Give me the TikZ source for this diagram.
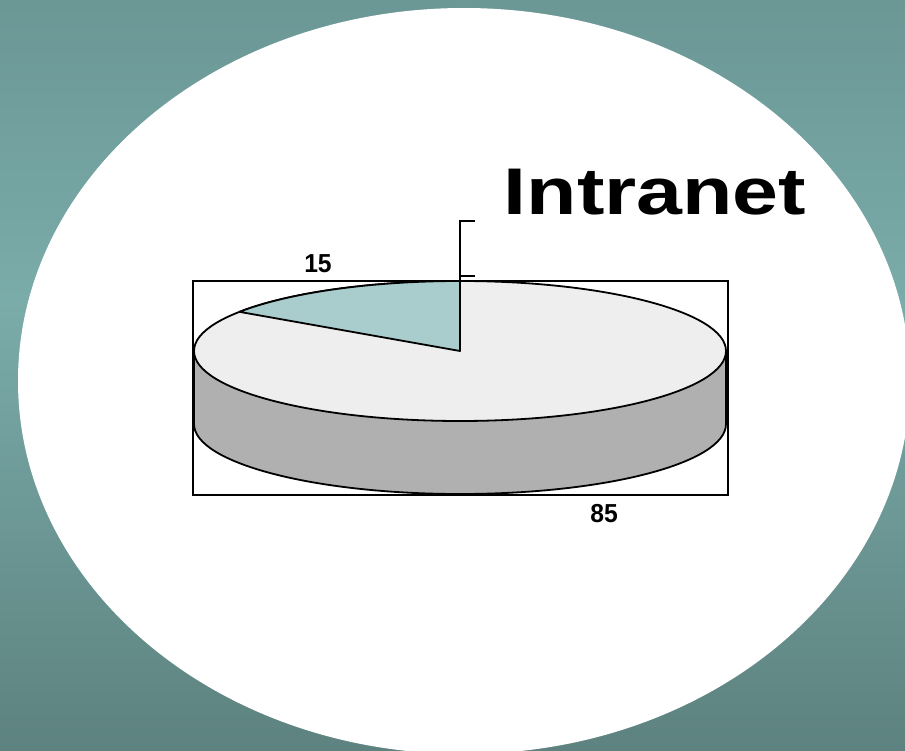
\documentclass[tikz,border=0pt]{standalone}
\usepackage{fontspec}
\setmainfont{Liberation Sans}
\begin{document}
\begin{tikzpicture}[x=1pt,y=-1pt]
\definecolor{bgtop}{RGB}{107,151,149}
\definecolor{bgmid}{RGB}{122,172,170}
\definecolor{bgbot}{RGB}{93,130,127}
\definecolor{slicecol}{RGB}{169,204,204}
\definecolor{pietop}{RGB}{238,238,238}
\definecolor{pieside}{RGB}{176,176,176}
\tikzset{
  pieline/.style={draw=black, line width=1.8pt, line join=round},
  numlabel/.style={font=\bfseries\fontsize{26}{30}\selectfont, anchor=base, inner sep=0pt, xscale=0.95},
}
\useasboundingbox (0,0) rectangle (905,751);
\shade[top color=bgtop,bottom color=bgmid] (0,0) rectangle (905,300.5);
\shade[top color=bgmid,bottom color=bgbot] (0,300) rectangle (905,751);
\fill[white] (464,381) ellipse [x radius=446, y radius=373];
% chart frame
\draw[line width=1.4pt] (193,281) rectangle (728,495);
% side of pie
\fill[pieside] (194,351) -- (194,424) arc[start angle=180,end angle=0,x radius=266,y radius=70] -- (726,351) arc[start angle=0, end angle=180, x radius=266, y radius=70] -- cycle;
\draw[pieline] (194,351) -- (194,424) arc[start angle=180,end angle=0,x radius=266,y radius=70] -- (726,351);
% top of pie
\filldraw[pieline, fill=pietop] (460,351) ellipse[x radius=266,y radius=70];
% 15 slice
\filldraw[pieline, fill=slicecol] (460,351) -- (460,281) arc[start angle=-90,end angle=-146,x radius=266,y radius=70] -- cycle;
% bracket
\coordinate (bt) at (460,221);
\coordinate (bm) at (460,276);
\draw[line width=1.4pt] ([xshift=15pt]bt) -- (bt) -- (460,281);
\draw[line width=1.4pt] (bm) -- ([xshift=15pt]bm);
% labels
\node[numlabel] (l15) at (318,273) {15};
\node[numlabel] (l85) at (604,522) {85};
\node[font=\bfseries\fontsize{66}{70}\selectfont, anchor=base, inner sep=0pt, xscale=1.25] (title) at (655,215) {Intranet};
\end{tikzpicture}
\end{document}
